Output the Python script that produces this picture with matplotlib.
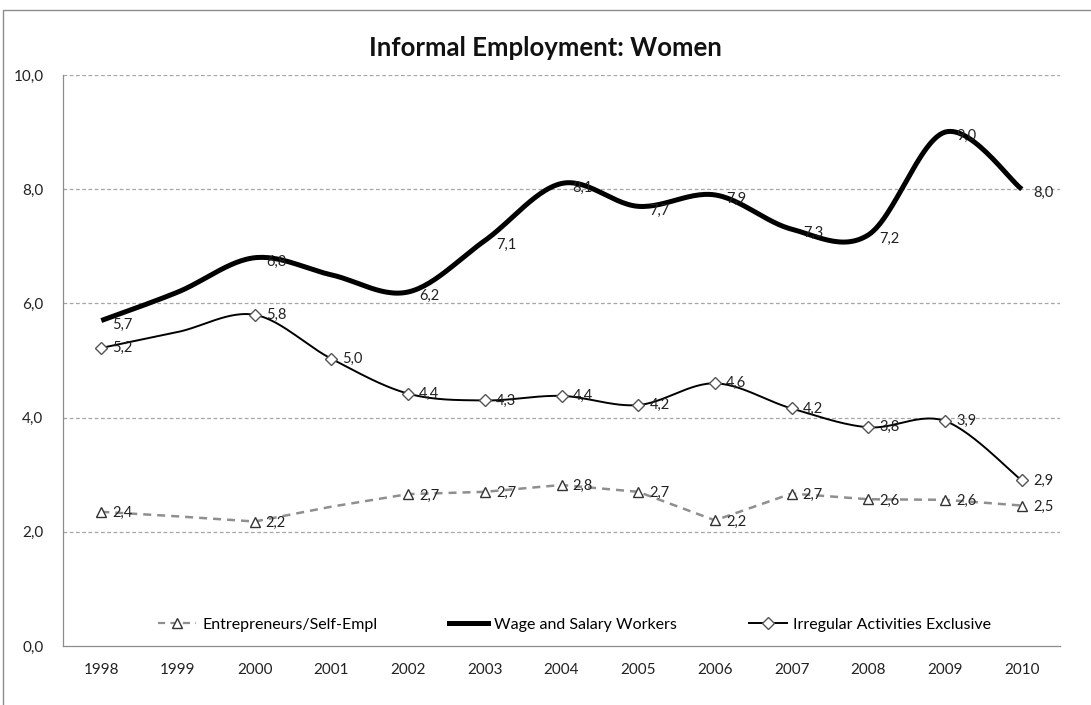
import numpy as np
import matplotlib.pyplot as plt
from matplotlib.patches import Rectangle

plt.rcParams['font.family'] = ['Lato', 'DejaVu Sans']

years = [1998, 1999, 2000, 2001, 2002, 2003, 2004, 2005, 2006, 2007, 2008, 2009, 2010]
entrepreneurs = [2.35, 2.27, 2.18, 2.44, 2.66, 2.7, 2.82, 2.7, 2.2, 2.67, 2.57, 2.56, 2.46]
wage = [5.7, 6.2, 6.8, 6.5, 6.2, 7.1, 8.1, 7.7, 7.9, 7.3, 7.2, 9.0, 8.0]
irregular = [5.22, 5.5, 5.8, 5.03, 4.42, 4.3, 4.38, 4.22, 4.6, 4.16, 3.83, 3.94, 2.9]

# points without marker / label in the original
ent_hidden = [1999, 2001]
wage_hidden = [1999, 2001]
irr_hidden = [1999]


def smooth(x, y, n=30):
    # Catmull-Rom style smoothing, similar to Excel's smoothed lines
    x = np.asarray(x, float)
    y = np.asarray(y, float)
    px = np.concatenate([[x[0]], x, [x[-1]]])
    py = np.concatenate([[y[0]], y, [y[-1]]])
    xs, ys = [], []
    t = np.linspace(0, 1, n)
    for i in range(1, len(px) - 2):
        p0, p1, p2, p3 = [np.array([px[j], py[j]]) for j in (i - 1, i, i + 1, i + 2)]
        c1 = p1 + (p2 - p0) / 6
        c2 = p2 - (p3 - p1) / 6
        b = ((1 - t) ** 3)[:, None] * p1 + (3 * (1 - t) ** 2 * t)[:, None] * c1 \
            + (3 * (1 - t) * t ** 2)[:, None] * c2 + (t ** 3)[:, None] * p2
        xs.extend(b[:, 0])
        ys.extend(b[:, 1])
    return np.array(xs), np.array(ys)


def fmt(v):
    return f"{v:.1f}".replace(".", ",")


fig = plt.figure(figsize=(10.91, 7.05), dpi=100)
ax = fig.add_axes([0.0577, 0.0837, 0.914, 0.8099])

grey = '#8c8c8c'
dash = (0, (3.2, 2.4))

# Entrepreneurs (nearly straight in the original)
ax.plot(years, entrepreneurs, color='#8f8f8f', lw=1.8, ls=dash, zorder=2)
ex = [y for y in years if y not in ent_hidden]
ev = [v for y, v in zip(years, entrepreneurs) if y not in ent_hidden]
ax.plot(ex, ev, ls='none', marker='^', ms=7.5, mfc='white', mec='#333333', mew=1, zorder=3)

# Wage and Salary Workers
sx, sy = smooth(years, wage)
ax.plot(sx, sy, color='black', lw=3.6, solid_capstyle='butt', zorder=2)

# Irregular Activities Exclusive
sx, sy = smooth(years, irregular)
ax.plot(sx, sy, color='black', lw=1.4, zorder=2)
ix = [y for y in years if y not in irr_hidden]
iv = [v for y, v in zip(years, irregular) if y not in irr_hidden]
ax.plot(ix, iv, ls='none', marker='D', ms=6.5, mfc='white', mec='#555555', mew=1, zorder=3)

# data labels
lab_fs = 10.5
for yr, v in zip(years, entrepreneurs):
    if yr not in ent_hidden:
        ax.annotate(fmt(v), (yr, v), xytext=(8, -1), textcoords='offset points',
                    fontsize=lab_fs, va='center', color='#222222', zorder=4)
for yr, v in zip(years, wage):
    if yr not in wage_hidden:
        ax.annotate(fmt(v), (yr, v), xytext=(8, -3), textcoords='offset points',
                    fontsize=lab_fs, va='center', color='#222222', zorder=4)
for yr, v in zip(years, irregular):
    if yr not in irr_hidden:
        ax.annotate(fmt(v), (yr, v), xytext=(8, 0), textcoords='offset points',
                    fontsize=lab_fs, va='center', color='#222222', zorder=4)

# legend handles
h1, = ax.plot([], [], color='#8f8f8f', lw=1.6, ls=dash, marker='^', ms=7.5,
              mfc='white', mec='#333333')
h2, = ax.plot([], [], color='black', lw=3.6)
h3, = ax.plot([], [], color='black', lw=1.4, marker='D', ms=6, mfc='white', mec='#555555')
ax.legend([h1, h2, h3],
          ['Entrepreneurs/Self-Empl', 'Wage and Salary Workers', 'Irregular Activities Exclusive'],
          loc='lower center', bbox_to_anchor=(0.513, 0.0), ncol=3, frameon=False,
          fontsize=11.5, handlelength=2.4, handletextpad=0.4, columnspacing=4.5)

ax.set_xlim(1997.5, 2010.5)
ax.set_ylim(0, 10)
ax.set_xticks(years)
ax.set_xticklabels([str(y) for y in years])
ax.set_yticks([0, 2, 4, 6, 8, 10])
ax.set_yticklabels([fmt(v) for v in [0, 2, 4, 6, 8, 10]])
ax.tick_params(length=0, labelsize=11, colors='#222222')
ax.tick_params(axis='x', pad=12)
ax.tick_params(axis='y', pad=14)
for v in [2, 4, 6, 8, 10]:
    ax.axhline(v, color='#a6a6a6', lw=0.9, ls=(0, (3, 2)), zorder=1)
for s in ['top', 'right']:
    ax.spines[s].set_visible(False)
for s in ['left', 'bottom']:
    ax.spines[s].set_color(grey)
    ax.spines[s].set_linewidth(0.9)

fig.text(0.5, 0.932, 'Informal Employment: Women', ha='center', va='center',
         fontsize=18.5, fontweight='bold', color='#111111')

fig.patches.append(Rectangle((0.003, -0.01), 1.2, 0.996, transform=fig.transFigure,
                             fill=False, edgecolor='#8c8c8c', lw=1))

fig.savefig('out.png', dpi=100)
